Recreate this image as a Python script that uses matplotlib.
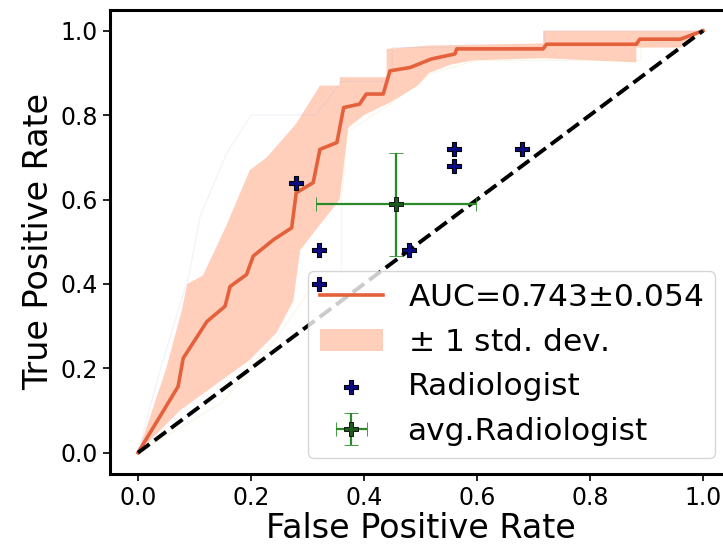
import numpy as np
from matplotlib import pyplot as plt

# mean ROC curve
mean_fpr = [0.0, 0.071, 0.080, 0.122, 0.154, 0.163, 0.192, 0.204, 0.240, 0.272,
            0.280, 0.310, 0.322, 0.352, 0.364, 0.392, 0.404, 0.434, 0.446, 0.482,
            0.519, 0.561, 0.564, 0.717, 0.723, 0.882, 0.888, 0.960, 1.0]
mean_tpr = [0.0, 0.157, 0.224, 0.311, 0.347, 0.394, 0.422, 0.466, 0.505, 0.533,
            0.616, 0.640, 0.719, 0.735, 0.818, 0.826, 0.850, 0.850, 0.905, 0.913,
            0.933, 0.945, 0.957, 0.957, 0.968, 0.968, 0.980, 0.980, 1.0]

# +/- 1 std band edges
upper_fpr = [0.0, 0.05, 0.078, 0.087, 0.115, 0.157, 0.198, 0.228, 0.28, 0.322,
             0.357, 0.357, 0.44, 0.44, 0.515, 0.717, 0.717, 1.0]
upper_tpr = [0.0, 0.20, 0.34, 0.40, 0.42, 0.54, 0.67, 0.70, 0.78, 0.87,
             0.87, 0.89, 0.89, 0.957, 0.965, 0.97, 1.0, 1.0]
lower_fpr = [0.0, 0.074, 0.11, 0.198, 0.245, 0.275, 0.287, 0.31, 0.357, 0.372,
             0.40, 0.446, 0.495, 0.515, 0.554, 0.594, 0.717, 0.882, 0.882, 0.96, 1.0]
lower_tpr = [0.0, 0.10, 0.135, 0.22, 0.284, 0.36, 0.48, 0.52, 0.60, 0.77,
             0.80, 0.83, 0.87, 0.90, 0.92, 0.93, 0.935, 0.925, 0.96, 0.96, 1.0]

# two of the faint single-fold curves
fold1_fpr = [0.0, 0.04, 0.09, 0.11, 0.157, 0.2, 0.316, 0.36, 0.45, 0.45, 0.72, 0.72, 1.0]
fold1_tpr = [0.0, 0.20, 0.42, 0.56, 0.71, 0.80, 0.80, 0.88, 0.88, 0.96, 0.96, 1.0, 1.0]
fold2_fpr = [0.0, 0.15, 0.25, 0.30, 0.36, 0.36, 0.37, 0.45, 0.52, 0.60, 0.89, 0.89, 1.0]
fold2_tpr = [0.0, 0.12, 0.28, 0.38, 0.41, 0.60, 0.76, 0.83, 0.90, 0.93, 0.93, 0.96, 1.0]

# radiologists
rad_fpr = [0.28, 0.32, 0.32, 0.48, 0.56, 0.56, 0.68]
rad_tpr = [0.64, 0.48, 0.40, 0.48, 0.72, 0.68, 0.72]

auc_label = 'AUC=0.743$\\pm$0.054'

fig = plt.figure(figsize=(7.23, 5.45), dpi=100)
ax = fig.add_axes([0.1518, 0.1306, 0.8596, 0.8517])

ax.plot(fold1_fpr, fold1_tpr, color='#8fa8d8', lw=1, alpha=0.12)
ax.plot(fold2_fpr, fold2_tpr, color='#e0d080', lw=1, alpha=0.15)

line, = ax.plot(mean_fpr, mean_tpr, color='#e4613c', lw=2.6, label=auc_label)
band = ax.fill(np.r_[upper_fpr, lower_fpr[::-1]], np.r_[upper_tpr, lower_tpr[::-1]],
               color='lightsalmon', alpha=0.5, lw=0, label='$\\pm$ 1 std. dev.')[0]
ax.plot([0, 1], [0, 1], color='k', ls='--', lw=2.8)

# markers sit above the legend box, like in the original
sc = ax.scatter(rad_fpr, rad_tpr, marker='P', s=90, color='#0c0c85',
                edgecolors='k', linewidths=0.8, zorder=6, label='Radiologist')
eb = ax.errorbar(np.mean(rad_fpr), np.mean(rad_tpr),
                 xerr=np.std(rad_fpr), yerr=np.std(rad_tpr),
                 fmt='P', color='green', ecolor='#2a8a2a', elinewidth=1.6, capsize=5,
                 markersize=10, markerfacecolor='#1f5a1f', markeredgecolor='k',
                 markeredgewidth=0.6, zorder=6, label='avg.Radiologist')

ax.set_xlim(-0.05, 1.05)
ax.set_ylim(-0.05, 1.05)
ax.set_xticks([0.0, 0.2, 0.4, 0.6, 0.8, 1.0])
ax.set_yticks([0.0, 0.2, 0.4, 0.6, 0.8, 1.0])
ax.tick_params(labelsize=17, width=1.2, length=5)
for s in ax.spines.values():
    s.set_linewidth(2.2)
ax.spines['right'].set_visible(False)
ax.set_xlabel('False Positive Rate', fontsize=24, labelpad=2)
ax.set_ylabel('True Positive Rate', fontsize=24)

leg = ax.legend(handles=[line, band, sc, eb], loc='lower right', fontsize=22.5,
                handlelength=2.0, borderpad=0.4, labelspacing=0.5,
                bbox_to_anchor=(731 / 723, 71 / 545), bbox_transform=fig.transFigure)
leg.set_zorder(5)

fig.savefig('out.png', dpi=100)
